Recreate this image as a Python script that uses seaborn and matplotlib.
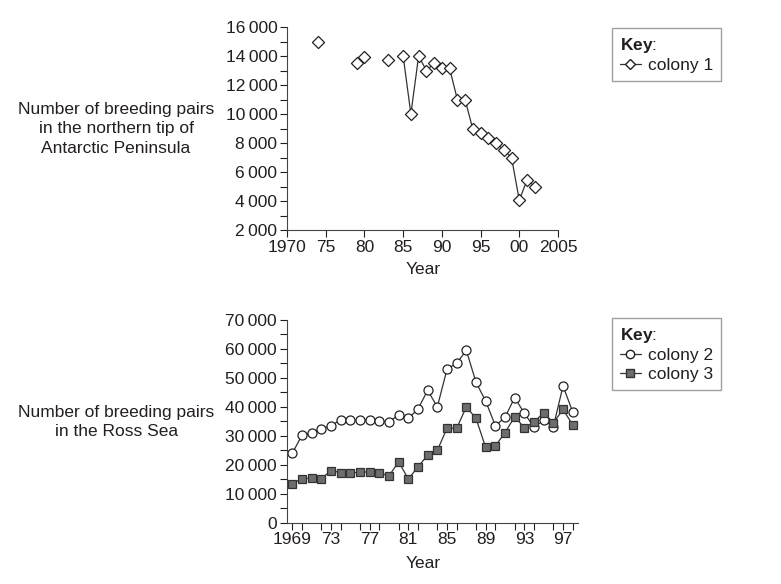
import numpy as np
import pandas as pd
import matplotlib
matplotlib.use("Agg")
import matplotlib.pyplot as plt
import seaborn as sns
from matplotlib.lines import Line2D
from matplotlib.ticker import MultipleLocator, FuncFormatter

# colony 1 - northern tip of Antarctic Peninsula
years_c1 = [1974, 1979, 1980, 1983, 1985, 1986, 1987, 1988, 1989, 1990, 1991,
            1992, 1993, 1994, 1995, 1996, 1997, 1998, 1999, 2000, 2001, 2002]
pairs_c1 = [15000, 13500, 13950, 13750, 14000, 10000, 14000, 13000, 13500, 13200, 13150,
            11000, 11000, 8950, 8700, 8350, 8000, 7500, 7000, 4050, 5450, 5000]
first_joined_year = 1985

# colonies 2 and 3 - Ross Sea
years_ross = list(range(1969, 1999))
pairs_c2 = [24000, 30200, 31000, 32500, 33500, 35500, 35300, 35500, 35600, 35000,
            34900, 37200, 36000, 39300, 45700, 40000, 53000, 55100, 59500, 48500,
            42000, 33500, 36400, 43200, 37800, 33000, 35300, 33200, 47200, 38300]
pairs_c3 = [13500, 15200, 15300, 15200, 18000, 17300, 17200, 17400, 17600, 17200,
            16200, 21000, 15100, 19300, 23300, 25000, 32600, 32600, 40000, 36000,
            26000, 26500, 31100, 36600, 32800, 34700, 38000, 34500, 39100, 33800]

top_xticks = [1970, 1975, 1980, 1985, 1990, 1995, 2000, 2005]
top_xlabels = ["1970", "75", "80", "85", "90", "95", "00", "2005"]
bot_xticks = [1969, 1973, 1977, 1981, 1985, 1989, 1993, 1997]
bot_xlabels = ["1969", "73", "77", "81", "85", "89", "93", "97"]

sns.set_style("ticks")
plt.rcParams['font.family'] = ['Liberation Sans', 'DejaVu Sans']
plt.rcParams['mathtext.fontset'] = 'custom'
plt.rcParams['mathtext.rm'] = 'Liberation Sans'
plt.rcParams['mathtext.bf'] = 'Liberation Sans:bold'

ink = '#231f20'
fs = 12.5
plt.rcParams.update({'text.color': ink, 'axes.labelcolor': ink, 'xtick.color': ink,
                     'ytick.color': ink, 'axes.edgecolor': '#444444'})

df1 = pd.DataFrame({'year': years_c1, 'pairs': pairs_c1})
df_ross = pd.DataFrame({'year': years_ross, 'colony 2': pairs_c2, 'colony 3': pairs_c3})

fig = plt.figure(figsize=(7.81, 5.84), dpi=100)
ax1 = fig.add_axes([287 / 781, 1 - 230 / 584, 271 / 781, 203 / 584])
ax2 = fig.add_axes([286.7 / 781, 1 - 522.7 / 584, 291.6 / 781, 202.7 / 584])

fmt = FuncFormatter(lambda v, p: "0" if v == 0 else f"{v:,.0f}".replace(",", "\u2009"))

# top chart
joined = df1[df1['year'] >= first_joined_year]
sns.lineplot(data=joined, x='year', y='pairs', ax=ax1, color='#333333', linewidth=0.9,
             estimator=None, legend=False)
sns.scatterplot(data=df1, x='year', y='pairs', ax=ax1, marker='D', s=38,
                facecolor='white', edgecolor='#222222', linewidth=0.9, zorder=3, legend=False)
ax1.set_xlim(1970, 2005)
ax1.set_ylim(2000, 16000)
ax1.set_xticks(top_xticks)
ax1.set_xticklabels(top_xlabels)
ax1.yaxis.set_major_locator(MultipleLocator(2000))
ax1.yaxis.set_minor_locator(MultipleLocator(1000))
ax1.yaxis.set_major_formatter(fmt)
ax1.set_xlabel("Year", fontsize=fs)
ax1.xaxis.set_label_coords(0.502, -0.16)
ax1.set_ylabel("")

# bottom chart
sns.lineplot(data=df_ross, x='year', y='colony 2', ax=ax2, color='#333333', linewidth=0.9,
             marker='o', markersize=6.5, markerfacecolor='white', markeredgecolor='#222222',
             markeredgewidth=0.9, legend=False)
sns.lineplot(data=df_ross, x='year', y='colony 3', ax=ax2, color='#333333', linewidth=0.9,
             marker='s', markersize=6, markerfacecolor='#6d6d6d', markeredgecolor='#333333',
             markeredgewidth=0.9, legend=False)
ax2.set_xlim(1968.42, 1998.58)
ax2.set_ylim(0, 70000)
ax2.set_xticks(bot_xticks)
ax2.set_xticklabels(bot_xlabels)
ax2.xaxis.set_minor_locator(MultipleLocator(2))
ax2.yaxis.set_major_locator(MultipleLocator(10000))
ax2.yaxis.set_minor_locator(MultipleLocator(5000))
ax2.yaxis.set_major_formatter(fmt)
ax2.set_xlabel("Year", fontsize=fs)
ax2.xaxis.set_label_coords(0.469, -0.163)
ax2.set_ylabel("")

for ax in (ax1, ax2):
    sns.despine(ax=ax)
    ax.tick_params(which='both', direction='out', length=5, width=0.8, labelsize=fs, pad=2)
    ax.spines['left'].set_linewidth(0.8)
    ax.spines['bottom'].set_linewidth(0.8)

# left side labels
fig.text(116 / 781, 1 - 129 / 584, "Number of breeding pairs\nin the northern tip of\nAntarctic Peninsula",
         ha='center', va='center', fontsize=fs, linespacing=1.38)
fig.text(116.5 / 781, 1 - 422 / 584, "Number of breeding pairs\nin the Ross Sea",
         ha='center', va='center', fontsize=fs, linespacing=1.38)

# keys
h1 = [Line2D([], [], color='#333333', linewidth=0.9, marker='D', markersize=5,
             markerfacecolor='white', markeredgecolor='#222222')]
h2 = [Line2D([], [], color='#333333', linewidth=0.9, marker='o', markersize=6,
             markerfacecolor='white', markeredgecolor='#222222'),
      Line2D([], [], color='#333333', linewidth=0.9, marker='s', markersize=5.5,
             markerfacecolor='#6d6d6d', markeredgecolor='#333333')]
for handles, labels, top in ((h1, ["colony 1"], 28), (h2, ["colony 2", "colony 3"], 318)):
    leg = fig.legend(handles, labels, title=r"$\bf{Key}$:", loc='upper left',
                     bbox_to_anchor=(612 / 781, 1 - top / 584), fontsize=fs,
                     title_fontsize=fs, frameon=True, fancybox=False, borderpad=0.45,
                     handlelength=1.2, handletextpad=0.4, labelspacing=0.2,
                     alignment='left', borderaxespad=0)
    leg.get_frame().set_edgecolor('#888888')
    leg.get_frame().set_linewidth(1.0)

fig.savefig("out.png", dpi=100)
